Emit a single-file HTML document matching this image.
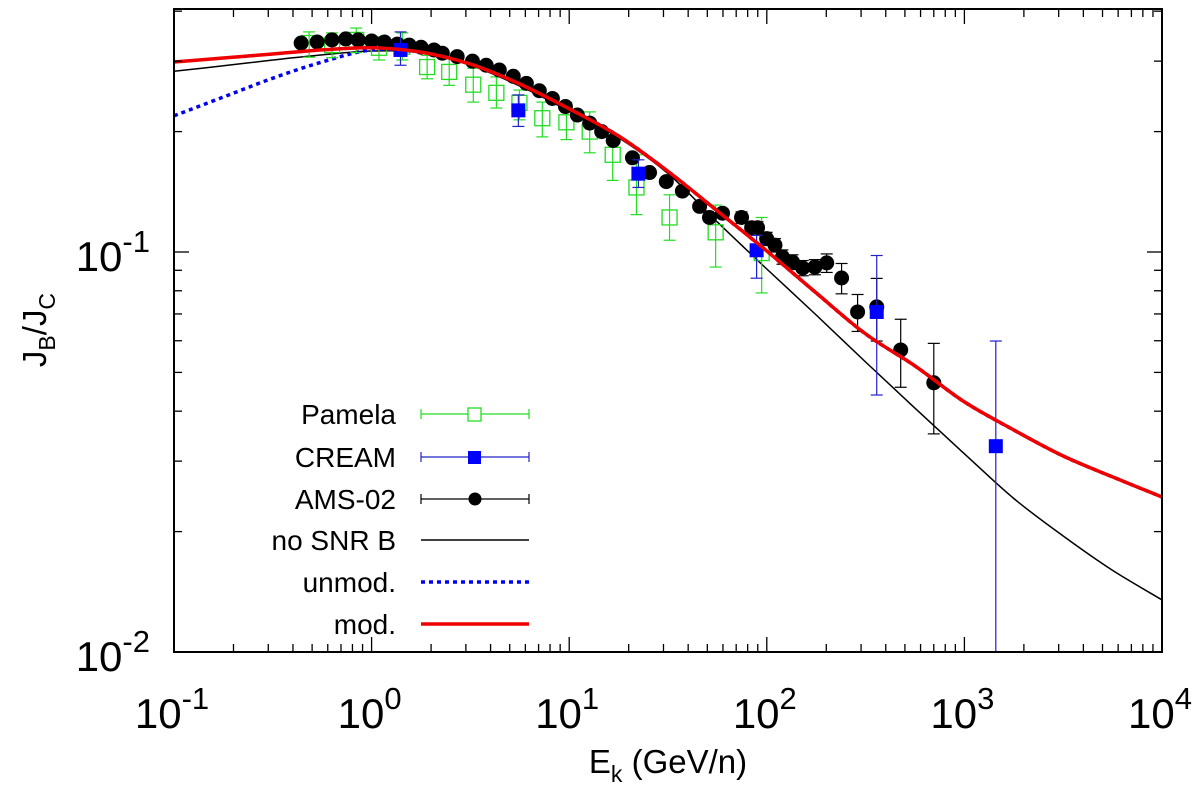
<!DOCTYPE html>
<html><head><meta charset="utf-8"><style>
html,body{margin:0;padding:0;background:#fff;}
svg{display:block;font-family:"Liberation Sans",sans-serif;}
</style></head><body>
<svg id="chart" width="1200" height="785" viewBox="0 0 1200 785">
<g id="plot"></g>
</svg>
<script>
const pamE=[0.483,0.631,0.836,1.09,1.43,1.91,2.47,3.27,4.28,5.60,7.31,9.68,12.7,16.6,21.9,32.2,55.1,94.2];
const pamV=[0.333,0.329,0.339,0.324,0.326,0.290,0.282,0.262,0.250,0.236,0.216,0.211,0.200,0.175,0.145,0.122,0.112,0.0994];
const pamHi=[0.355,0.353,0.363,0.345,0.353,0.310,0.307,0.288,0.274,0.254,0.237,0.237,0.224,0.196,0.175,0.139,0.131,0.122];
const pamLo=[0.307,0.306,0.315,0.302,0.302,0.271,0.261,0.237,0.229,0.214,0.194,0.191,0.177,0.151,0.124,0.107,0.0917,0.0790];
const crE=[1.40,5.53,22.4,88.8,360,1442];
const crV=[0.320,0.226,0.157,0.101,0.0708,0.0327];
const crHi=[0.355,0.247,0.170,0.110,0.098,0.0599];
const crLo=[0.293,0.206,0.145,0.086,0.0439,0.005];
const amsE=[0.44,0.53,0.63,0.74,0.855,1.0,1.16,1.35,1.55,1.78,2.07,2.28,2.71,3.24,3.8,4.43,5.21,6.07,7.06,8.22,9.57,11.0,12.7,14.6,16.7,20.9,25.5,31.0,37.4,45.7,51.3,59.7,74.5,83.8,89.8,99.8,110,120,135,152,175,201,239,288,360,476,700];
const amsV=[0.333,0.335,0.339,0.341,0.339,0.337,0.335,0.331,0.329,0.325,0.320,0.314,0.308,0.300,0.293,0.285,0.275,0.264,0.253,0.242,0.231,0.220,0.210,0.200,0.190,0.172,0.158,0.150,0.142,0.130,0.122,0.125,0.122,0.115,0.115,0.108,0.104,0.0972,0.0944,0.0912,0.0917,0.0939,0.0861,0.0708,0.0729,0.0569,0.0471];
const amsErr=[0.004,0.004,0.004,0.004,0.004,0.004,0.004,0.004,0.004,0.004,0.004,0.004,0.004,0.004,0.004,0.004,0.004,0.004,0.004,0.004,0.003,0.003,0.003,0.003,0.003,0.003,0.003,0.003,0.003,0.003,0.003,0.003,0.004,0.004,0.004,0.004,0.004,0.004,0.004,0.004,0.004,0.005,0.0075,0.0075,0.013,0.011,0.012];
const curveLogE=[-1,-0.75,-0.5,-0.25,0,0.25,0.5,0.75,1,1.25,1.5,1.75,2,2.25,2.5,2.75,3,3.25,3.5,3.75,4];
const modV=[0.2985,0.3055,0.3126,0.320,0.324,0.316,0.295,0.263,0.228,0.195,0.159,0.1266,0.1006,0.079,0.0624,0.0519,0.0422,0.0359,0.0309,0.0274,0.0244];
const noSnrV=[0.283,0.292,0.302,0.311,0.318,0.315,0.293,0.260,0.225,0.193,0.157,0.1188,0.0907,0.0696,0.0531,0.0407,0.0313,0.0242,0.0195,0.016,0.0135];
const unmodV=[0.219,0.244,0.272,0.2985,0.320,0.316,0.295,0.263,0.228,0.195,0.159,0.1266,0.1006,0.079,0.0624,0.0519,0.0422,0.0359,0.0309,0.0274,0.0244];
const xTickExp=["-1","0","1","2","3","4"];
const yTickExp=["-2","-1"];

const L=174,R=1162,T=9,B=652;
const xs=e=>L+(Math.log10(e)+1)/5*(R-L);
const xl=le=>L+(le+1)/5*(R-L);
const ys=v=>252-400*(Math.log10(v)+1);
const NS="http://www.w3.org/2000/svg";
const svg=document.getElementById('chart');
const g=document.getElementById('plot');
function mk(tag,attrs,parent){const el=document.createElementNS(NS,tag);for(const k in attrs)el.setAttribute(k,attrs[k]);(parent||g).appendChild(el);return el;}

const defs=mk('defs',{},svg);
const cp=mk('clipPath',{id:'clip'},defs);
mk('rect',{x:L,y:T,width:R-L,height:B-T},cp);
const inner=mk('g',{'clip-path':'url(#clip)'});



function lineFor(vals,stroke,w,dash,name){
  const P=curveLogE.map((le,i)=>[xl(le),ys(vals[i])]);
  let d='M'+P[0][0].toFixed(1)+','+P[0][1].toFixed(1);
  for(let i=0;i<P.length-1;i++){
    const p0=P[Math.max(0,i-1)],p1=P[i],p2=P[i+1],p3=P[Math.min(P.length-1,i+2)];
    const c1=[p1[0]+(p2[0]-p0[0])/6,p1[1]+(p2[1]-p0[1])/6];
    const c2=[p2[0]-(p3[0]-p1[0])/6,p2[1]-(p3[1]-p1[1])/6];
    d+=' C'+c1.map(n=>n.toFixed(1)).join(',')+' '+c2.map(n=>n.toFixed(1)).join(',')+' '+p2.map(n=>n.toFixed(1)).join(',');
  }
  const p=mk('path',{d:d,fill:'none',stroke:stroke,'stroke-width':w,'stroke-dasharray':dash||'none','stroke-linejoin':'round'},inner);
  
  
}
function errbar(x,yh,yl,col,parent){
  mk('line',{x1:x,x2:x,y1:yh,y2:yl,stroke:col,'stroke-width':1.2},parent);
  mk('line',{x1:x-6,x2:x+6,y1:yh,y2:yh,stroke:col,'stroke-width':1.2},parent);
  mk('line',{x1:x-6,x2:x+6,y1:yl,y2:yl,stroke:col,'stroke-width':1.2},parent);
}
lineFor(noSnrV,'#000',1.5,null,'no-snr-b-curve');
lineFor(unmodV,'#0000ee',3.5,'4,4','unmod-curve');

const gp=mk('g',{},inner);


pamE.forEach((e,i)=>{const x=xs(e),y=ys(pamV[i]);
  errbar(x,ys(pamHi[i]),ys(pamLo[i]),'#22dd22',gp);
  const r=mk('rect',{x:x-7.5,y:y-7.5,width:15,height:15,fill:'none',stroke:'#22dd22','stroke-width':1.3},gp);
  
  
});
const ga=mk('g',{},inner);


amsE.forEach((e,i)=>{const x=xs(e),y=ys(amsV[i]);
  errbar(x,ys(amsV[i]+amsErr[i]),ys(amsV[i]-amsErr[i]),'#000',ga);
  const c=mk('circle',{cx:x,cy:y,r:7.5,fill:'#000'},ga);
  
  
});
const gc=mk('g',{},inner);


crE.forEach((e,i)=>{const x=xs(e),y=ys(crV[i]);
  errbar(x,ys(crHi[i]),ys(crLo[i]),'#2222cc',gc);
  const r=mk('rect',{x:x-7,y:y-7,width:14,height:14,fill:'#0000ff'},gc);
  
  
});
lineFor(modV,'#ee0000',3.5,null,'mod-curve');

const fr=mk('rect',{x:L,y:T,width:R-L,height:B-T,fill:'none',stroke:'#000','stroke-width':2});


const tk=mk('g',{stroke:'#000','stroke-width':1.3});


for(let d=-1;d<=4;d++){
  for(let m=1;m<=9;m++){
    const v=m*Math.pow(10,d); if(Math.log10(v)>4.0001)break;
    const x=xs(v),len=m===1?15:8;
    mk('line',{x1:x,x2:x,y1:B,y2:B-len},tk);
    mk('line',{x1:x,x2:x,y1:T,y2:T+len},tk);
  }
}
for(let d=-2;d<=-1;d++){
  for(let m=1;m<=9;m++){
    const v=m*Math.pow(10,d); const y=ys(v); if(y<T)break;
    const len=m===1?15:8;
    mk('line',{x1:L,x2:L+len,y1:y,y2:y},tk);
    mk('line',{x1:R,x2:R-len,y1:y,y2:y},tk);
  }
}
xTickExp.forEach((ex,i)=>{
  const t=mk('text',{x:xs(Math.pow(10,+ex))-2,y:728,'font-size':42,'text-anchor':'middle'});
  
  
  t.innerHTML='10<tspan dy="-19" font-size="31">'+ex+'</tspan>';
});
yTickExp.forEach(ex=>{
  const t=mk('text',{x:150,y:ys(Math.pow(10,+ex))+19,'font-size':42,'text-anchor':'end'});
  
  
  t.innerHTML='10<tspan dy="-19" font-size="31">'+ex+'</tspan>';
});
const xt=mk('text',{x:668,y:773,'font-size':33,'text-anchor':'middle'});


xt.innerHTML='E<tspan dy="9" font-size="23">k</tspan><tspan dy="-9"> (GeV/n)</tspan>';
const yt=mk('text',{x:0,y:0,'font-size':33,'text-anchor':'middle',transform:'translate(46,330) rotate(-90)'});


yt.innerHTML='J<tspan dy="9" font-size="23">B</tspan><tspan dy="-9">/J</tspan><tspan dy="9" font-size="23">C</tspan>';

const leg=mk('g',{});


const legNames=['Pamela','CREAM','AMS-02','no SNR B','unmod.','mod.'];
const legY=[414,457,499,540,582,624];
legNames.forEach((n,i)=>{
  const y=legY[i];
  const e=mk('g',{},leg);
  
  
  const t=mk('text',{x:396,y:y+10,'font-size':28,'text-anchor':'end'},e); t.textContent=n;
  if(i<3){const col=['#22dd22','#2222cc','#000'][i];
    mk('line',{x1:421,x2:529,y1:y,y2:y,stroke:col,'stroke-width':1.2},e);
    mk('line',{x1:421,x2:421,y1:y-5,y2:y+5,stroke:col,'stroke-width':1.2},e);
    mk('line',{x1:529,x2:529,y1:y-5,y2:y+5,stroke:col,'stroke-width':1.2},e);
    if(i===0)mk('rect',{x:468,y:y-6,width:13,height:13,fill:'#fff',stroke:col,'stroke-width':1.3},e);
    if(i===1)mk('rect',{x:468,y:y-6,width:13,height:13,fill:'#0000ff'},e);
    if(i===2)mk('circle',{cx:475,cy:y,r:6.5,fill:'#000'},e);
  } else {
    const st=[['#000',1.5,'none'],['#0000ee',3.5,'4,4'],['#ee0000',3.5,'none']][i-3];
    mk('line',{x1:421,x2:529,y1:y,y2:y,stroke:st[0],'stroke-width':st[1],'stroke-dasharray':st[2]},e);
  }
});
</script>
</body></html>
